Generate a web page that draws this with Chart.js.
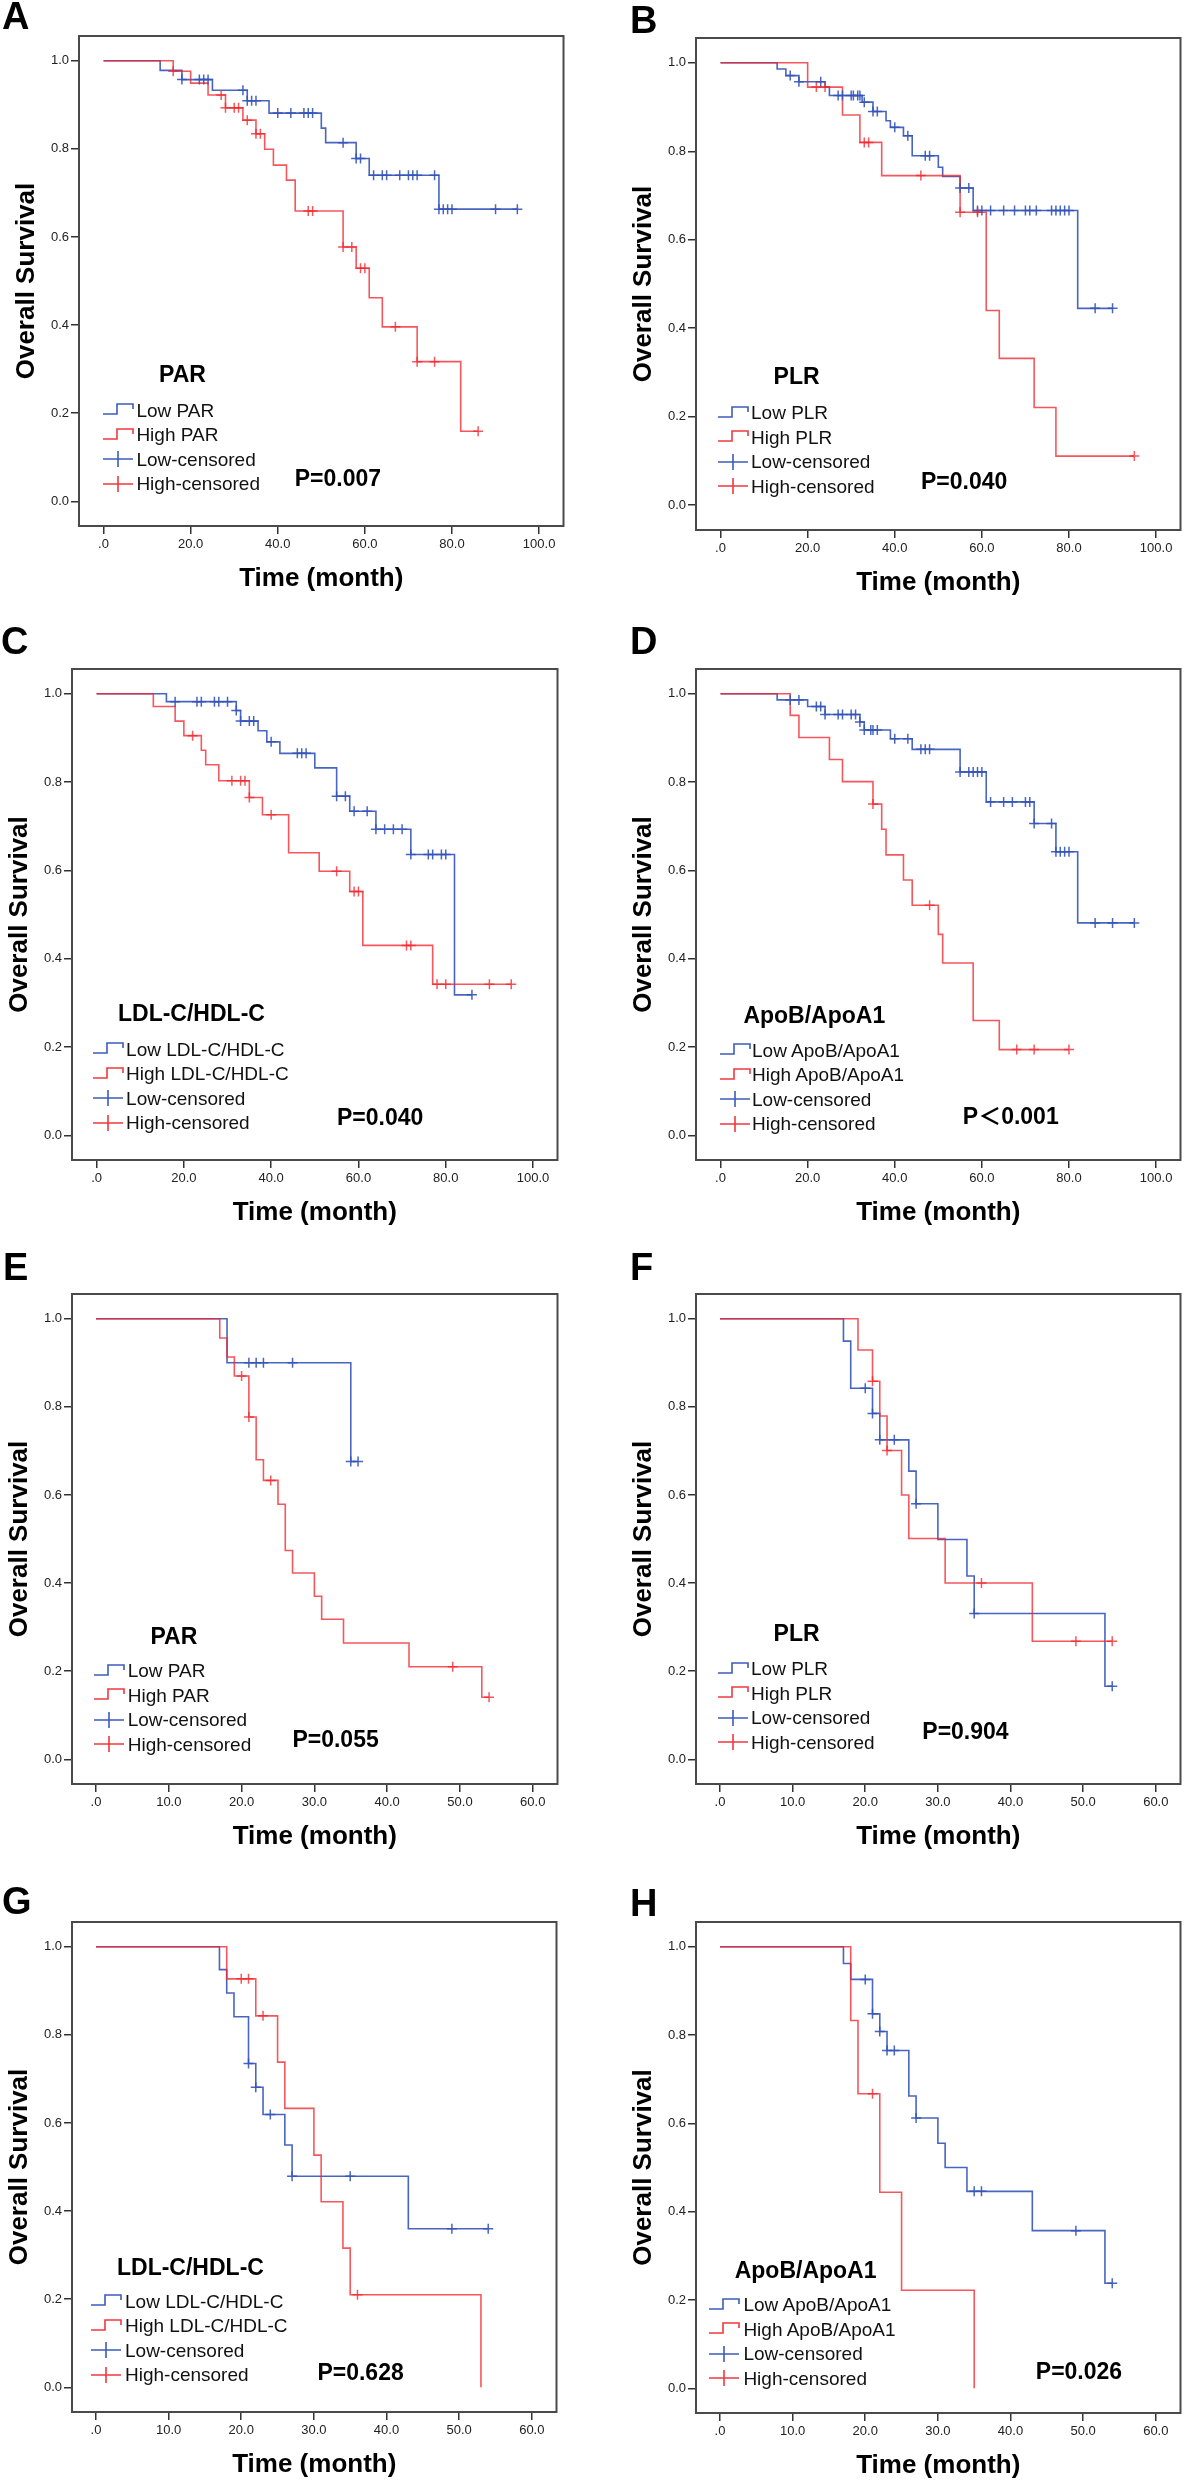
<!DOCTYPE html>
<html>
<head>
<meta charset="utf-8">
<script src="https://cdn.jsdelivr.net/npm/chart.js@4.4.1/dist/chart.umd.min.js"></script>
<style>
  html, body { margin:0; padding:0; background:#fff; }
  body { position:relative; width:1187px; height:2480px; overflow:hidden;
         font-family:"Liberation Sans", Arial, Helvetica, "Noto Sans CJK SC", sans-serif; color:#000; }
  .abs { position:absolute; white-space:nowrap; }
  .letter { font-weight:bold; font-size:38px; line-height:38px; }
  .ltitle { font-weight:bold; font-size:23px; line-height:23px; }
  .litem { font-size:19px; line-height:19px; color:#111; }
  .pval { font-weight:bold; font-size:23px; line-height:23px; }
</style>
</head>
<body>
<script>
// ---------------- DATA ----------------
const panelLetters = ['A','B','C','D','E','F','G','H'];
const legendTitles = ['PAR','PLR','LDL-C/HDL-C','ApoB/ApoA1','PAR','PLR','LDL-C/HDL-C','ApoB/ApoA1'];
const pValues = ['P=0.007','P=0.040','P=0.040','P\uFF1C0.001','P=0.055','P=0.904','P=0.628','P=0.026'];
const censLabels = ['Low-censored','High-censored'];
const yTitle = 'Overall Survival';
const xTitle = 'Time (month)';

const yTicks = [0, 0.2, 0.4, 0.6, 0.8, 1.0];
const yTickLabels = ['0.0','0.2','0.4','0.6','0.8','1.0'];
const xTicksLong = [0, 20, 40, 60, 80, 100];
const xTickLabelsLong = ['.0','20.0','40.0','60.0','80.0','100.0'];
const xTicksShort = [0, 10, 20, 30, 40, 50, 60];
const xTickLabelsShort = ['.0','10.0','20.0','30.0','40.0','50.0','60.0'];

// Panel A - PAR
const A_lowTime = [0, 13, 18, 25, 33, 38, 50, 51, 58, 61, 77];
const A_lowSurv = [1, 0.978, 0.957, 0.933, 0.909, 0.881, 0.847, 0.814, 0.778, 0.740, 0.663];
const A_lowCens = [18, 22, 23, 24, 32, 33, 34, 35, 40, 43, 46, 47, 48, 55, 58, 59, 62, 64, 65, 68, 70, 71, 72, 76, 77, 78, 79, 80, 90, 95];
const A_highTime = [0, 16, 20, 24, 28, 32, 35, 37, 39, 42, 44, 55, 58, 61, 64, 72, 82];
const A_highSurv = [1, 0.976, 0.949, 0.922, 0.893, 0.865, 0.834, 0.799, 0.763, 0.729, 0.659, 0.577, 0.529, 0.462, 0.396, 0.317, 0.159];
const A_highCens = [16, 27, 28, 30, 31, 33, 35, 36, 47, 48, 55, 57, 59, 60, 67, 72, 76, 86];

// Panel B - PLR
const B_lowTime = [0, 13, 15, 18, 24, 25, 32.5, 35, 38, 39, 42, 44, 50, 51, 55, 58, 82];
const B_lowSurv = [1, 0.986, 0.971, 0.957, 0.945, 0.926, 0.911, 0.890, 0.869, 0.854, 0.835, 0.790, 0.764, 0.743, 0.717, 0.666, 0.445];
const B_lowCens = [16, 18, 23, 27, 28, 30, 30.5, 31.5, 32, 33, 35, 36, 40, 43, 47, 48, 55, 57, 59, 60, 62, 65, 67.5, 70, 71, 72.5, 76, 77, 78, 79, 80, 86, 90];
const B_highTime = [0, 20, 28, 32, 37, 55, 61, 64, 72, 77];
const B_highSurv = [1, 0.945, 0.882, 0.820, 0.745, 0.662, 0.440, 0.332, 0.221, 0.111];
const B_highCens = [22, 24, 33, 34, 46, 55, 59, 95];

// Panel C - LDL-C/HDL-C
const C_lowTime = [0, 16, 32, 33, 37, 39, 42, 50, 55, 58, 64, 72, 82];
const C_lowSurv = [1, 0.982, 0.962, 0.938, 0.916, 0.891, 0.865, 0.832, 0.768, 0.734, 0.693, 0.636, 0.318];
const C_lowCens = [18, 23, 24, 27, 28, 30, 32, 33, 35, 36, 40, 46, 47, 48, 55, 57, 59, 62, 64, 66, 68, 70, 72, 76, 77, 79, 80, 86];
const C_highTime = [0, 13, 18, 20, 24, 25, 28, 35, 38, 44, 51, 58, 61, 77];
const C_highSurv = [1, 0.971, 0.938, 0.905, 0.872, 0.839, 0.803, 0.765, 0.726, 0.640, 0.598, 0.552, 0.430, 0.342];
const C_highCens = [22, 31, 33, 34, 35, 40, 55, 59, 60, 71, 72, 78, 80, 90, 95];

// Panel D - ApoB/ApoA1
const D_lowTime = [0, 13, 20, 24, 32, 33, 39, 44, 55, 61, 72, 77, 82];
const D_lowSurv = [1, 0.986, 0.971, 0.953, 0.936, 0.918, 0.898, 0.874, 0.823, 0.755, 0.706, 0.642, 0.481];
const D_lowCens = [16, 18, 22, 23, 24, 27, 28, 30, 31, 32, 33, 34.5, 35, 36, 40, 43, 46, 47, 48, 55, 57, 58, 59, 60, 62, 65, 67, 70, 71, 72, 76, 77, 78, 79, 80, 86, 90, 95];
const D_highTime = [0, 16, 18, 25, 28, 35, 37, 38, 42, 44, 50, 51, 58, 64];
const D_highSurv = [1, 0.951, 0.901, 0.851, 0.801, 0.750, 0.693, 0.635, 0.578, 0.521, 0.455, 0.390, 0.260, 0.194];
const D_highCens = [35, 48, 68, 72, 80];

// Panel E - PAR
const E_lowTime = [0, 18, 35];
const E_lowSurv = [1, 0.900, 0.676];
const E_lowCens = [21, 22, 23, 27, 35, 36];
const E_highTime = [0, 17, 18, 19, 21, 22, 23, 25, 26, 27, 30, 31, 34, 43, 53];
const E_highSurv = [1, 0.956, 0.913, 0.870, 0.777, 0.680, 0.633, 0.579, 0.474, 0.423, 0.370, 0.318, 0.264, 0.210, 0.141];
const E_highCens = [20, 21, 24, 49, 54];

// Panel F - PLR
const F_lowTime = [0, 17, 18, 21, 22, 26, 27, 30, 34, 35, 53];
const F_lowSurv = [1, 0.949, 0.842, 0.785, 0.725, 0.654, 0.580, 0.499, 0.416, 0.331, 0.166];
const F_lowCens = [20, 21, 22, 24, 27, 35, 54];
const F_highTime = [0, 19, 21, 22, 23, 25, 26, 31, 43];
const F_highSurv = [1, 0.929, 0.858, 0.779, 0.701, 0.600, 0.501, 0.400, 0.268];
const F_highCens = [21, 23, 36, 49, 54];

// Panel G - LDL-C/HDL-C
const G_lowTime = [0, 17, 18, 19, 21, 22, 23, 26, 27, 43];
const G_lowSurv = [1, 0.948, 0.895, 0.841, 0.735, 0.681, 0.619, 0.550, 0.479, 0.360];
const G_lowCens = [21, 22, 24, 27, 35, 49, 54];
const G_highTime = [0, 18, 22, 25, 26, 30, 31, 34, 35, 53];
const G_highSurv = [1, 0.927, 0.843, 0.738, 0.633, 0.527, 0.421, 0.316, 0.210, 0];
const G_highCens = [20, 21, 23, 36];

// Panel H - ApoB/ApoA1
const H_lowTime = [0, 17, 18, 21, 22, 23, 26, 27, 30, 31, 34, 43, 53];
const H_lowSurv = [1, 0.962, 0.926, 0.848, 0.808, 0.765, 0.662, 0.612, 0.555, 0.500, 0.446, 0.357, 0.238];
const H_lowCens = [20, 21, 22, 23, 24, 27, 35, 36, 49, 54];
const H_highTime = [0, 18, 19, 22, 25, 35];
const H_highSurv = [1, 0.833, 0.667, 0.444, 0.222, 0];
const H_highCens = [21];

// ---------------- LAYOUT / STYLE ----------------
const FONT = '"Liberation Sans", Arial, Helvetica, sans-serif';
const BLUE = 'rgba(52, 84, 186, 0.9)';
const RED = 'rgba(242, 40, 48, 0.78)';
const BLUE_SOLID = '#3d5cbc';
const RED_SOLID = '#f0383e';

const xRangeLong = { min: -5.63, max: 105.6 };
const xRangeShort = { min: -3.3, max: 63.4 };
const yRange = { min: -0.056, max: 1.056 };

// frame [left, top, right, bottom]; legend offsets relative to frame left/top
const layouts = [
  { frame:[79,36,567,526],   letter:[2,2],     title:[80,338],   icon:24.4, text:57.4, row0:374,   p:[215.7,442.6] },
  { frame:[696,38,1184,530], letter:[630,6],   title:[77.6,338], icon:21.7, text:55,   row0:374.7, p:[225,443.6] },
  { frame:[72,669,561,1160], letter:[1,627],   title:[46,344.3], icon:20.8, text:54.1, row0:380.1, p:[265,448.2] },
  { frame:[696,669,1184,1160], letter:[630,627], title:[47.4,346.3], icon:23.6, text:56, row0:381.3, p:[266.8,447] },
  { frame:[72,1294,561,1784], letter:[3,1253], title:[78.4,342.1], icon:22, text:55.7, row0:376.5, p:[220.4,445.7] },
  { frame:[696,1294,1184,1784], letter:[630,1253], title:[77.6,339.8], icon:22, text:55, row0:374.6, p:[226.3,437.8] },
  { frame:[72,1922,560,2412], letter:[2,1887], title:[45,345], icon:19, text:53, row0:379, p:[245.4,450.2] },
  { frame:[696,1922,1184,2413], letter:[630,1889], title:[38.7,348.3], icon:13.4, text:47.4, row0:382.8, p:[339.8,449.3] }
];
const ROW_STEP = 24.5;

const series = [
  [A_lowTime, A_lowSurv, A_lowCens, A_highTime, A_highSurv, A_highCens, 'long'],
  [B_lowTime, B_lowSurv, B_lowCens, B_highTime, B_highSurv, B_highCens, 'long'],
  [C_lowTime, C_lowSurv, C_lowCens, C_highTime, C_highSurv, C_highCens, 'long'],
  [D_lowTime, D_lowSurv, D_lowCens, D_highTime, D_highSurv, D_highCens, 'long'],
  [E_lowTime, E_lowSurv, E_lowCens, E_highTime, E_highSurv, E_highCens, 'short'],
  [F_lowTime, F_lowSurv, F_lowCens, F_highTime, F_highSurv, F_highCens, 'short'],
  [G_lowTime, G_lowSurv, G_lowCens, G_highTime, G_highSurv, G_highCens, 'short'],
  [H_lowTime, H_lowSurv, H_lowCens, H_highTime, H_highSurv, H_highCens, 'short']
];

// ---------------- HELPERS ----------------
function lineData(times, surv, cens) {
  const pts = times.map((t, i) => ({ x: t, y: surv[i] }));
  const lastT = times[times.length - 1];
  const maxC = cens.length ? Math.max(...cens) : lastT;
  if (maxC > lastT) pts.push({ x: maxC, y: surv[surv.length - 1] });
  return pts;
}
function survAt(times, surv, t) {
  let s = surv[0];
  for (let i = 0; i < times.length; i++) if (times[i] <= t) s = surv[i];
  return s;
}
function censData(times, surv, cens) {
  return cens.map(t => ({ x: t, y: survAt(times, surv, t) }));
}

const framePlugin = {
  id: 'frame',
  afterDraw(chart) {
    const { ctx, chartArea: a } = chart;
    ctx.save();
    ctx.strokeStyle = '#4a4a4a';
    ctx.lineWidth = 2;
    ctx.strokeRect(a.left, a.top, a.right - a.left, a.bottom - a.top);
    ctx.restore();
  }
};

function addDiv(cls, text, left, top) {
  const d = document.createElement('div');
  d.className = 'abs ' + cls;
  d.textContent = text;
  d.style.left = left + 'px';
  d.style.top = top + 'px';
  document.body.appendChild(d);
  return d;
}
function addIcon(kind, color, left, cy) {
  const ns = 'http://www.w3.org/2000/svg';
  const svg = document.createElementNS(ns, 'svg');
  svg.setAttribute('width', '32'); svg.setAttribute('height', '24');
  svg.style.position = 'absolute';
  svg.style.left = left + 'px';
  svg.style.top = (cy - 12) + 'px';
  const path = document.createElementNS(ns, 'path');
  path.setAttribute('d', kind === 'line' ? 'M0 16 H14 V6 H30 V11' : 'M0 12 H30 M15 4 V20');
  path.setAttribute('fill', 'none');
  path.setAttribute('stroke', color);
  path.setAttribute('stroke-width', '1.6');
  svg.appendChild(path);
  document.body.appendChild(svg);
}

function makePanel(idx) {
  const lay = layouts[idx];
  const [lowT, lowS, lowC, highT, highS, highC, kind] = series[idx];
  const [L, T, R, B] = lay.frame;
  const padTop = 10, padRight = 3, padBottom = 4, yW = 72, xH = 72;
  const cw = R - L + yW + padRight;
  const ch = B - T + padTop + xH + padBottom;
  const canvas = document.createElement('canvas');
  canvas.width = cw; canvas.height = ch;
  canvas.style.cssText = `position:absolute;left:${L - yW}px;top:${T - padTop}px;width:${cw}px;height:${ch}px;`;
  document.body.appendChild(canvas);

  const xr = kind === 'long' ? xRangeLong : xRangeShort;
  const xt = kind === 'long' ? xTicksLong : xTicksShort;
  const xl = kind === 'long' ? xTickLabelsLong : xTickLabelsShort;

  new Chart(canvas.getContext('2d'), {
    type: 'scatter',
    data: {
      datasets: [
        { data: censData(highT, highS, highC), showLine: false, pointStyle: 'cross', pointRadius: 5,
          pointHoverRadius: 5, borderColor: RED, backgroundColor: RED, borderWidth: 1.5 },
        { data: censData(lowT, lowS, lowC), showLine: false, pointStyle: 'cross', pointRadius: 5,
          pointHoverRadius: 5, borderColor: BLUE, backgroundColor: BLUE, borderWidth: 1.5 },
        { data: lineData(highT, highS, highC), showLine: true, stepped: 'before', pointRadius: 0,
          borderColor: RED, borderWidth: 1.6, fill: false },
        { data: lineData(lowT, lowS, lowC), showLine: true, stepped: 'before', pointRadius: 0,
          borderColor: BLUE, borderWidth: 1.6, fill: false }
      ]
    },
    options: {
      responsive: false, animation: false, devicePixelRatio: 1,
      events: [],
      layout: { padding: { top: padTop, right: padRight, bottom: padBottom, left: 0 } },
      plugins: { legend: { display: false }, tooltip: { enabled: false } },
      scales: {
        x: {
          type: 'linear', min: xr.min, max: xr.max,
          afterBuildTicks: s => { s.ticks = xt.map(v => ({ value: v })); },
          afterFit: s => { s.height = xH; },
          ticks: { callback: (v, i) => xl[i], font: { family: FONT, size: 13 }, color: '#222',
                   padding: 3, maxRotation: 0, autoSkip: false },
          grid: { display: true, drawOnChartArea: false, drawTicks: true, tickLength: 8, color: '#333', lineWidth: 1.5 },
          border: { display: false },
          title: { display: true, text: xTitle, color: '#000',
                   font: { family: FONT, size: 26, weight: 'bold' }, padding: { top: 0, bottom: 4 } }
        },
        y: {
          type: 'linear', min: yRange.min, max: yRange.max,
          afterBuildTicks: s => { s.ticks = yTicks.map(v => ({ value: v })); },
          afterFit: s => { s.width = yW; },
          ticks: { callback: (v, i) => yTickLabels[i], font: { family: FONT, size: 13 }, color: '#222',
                   padding: 2, autoSkip: false },
          grid: { display: true, drawOnChartArea: false, drawTicks: true, tickLength: 8, color: '#333', lineWidth: 1.5 },
          border: { display: false },
          title: { display: true, text: yTitle, color: '#000',
                   font: { family: FONT, size: 26, weight: 'bold' }, padding: { top: 4, bottom: 0 } }
        }
      }
    },
    plugins: [framePlugin]
  });

  // panel letter
  addDiv('letter', panelLetters[idx], lay.letter[0], lay.letter[1] - 4.7);
  // legend
  const title = legendTitles[idx];
  addDiv('ltitle', title, L + lay.title[0], T + lay.title[1] - 11.5);
  const items = [
    ['line', BLUE_SOLID, 'Low ' + title],
    ['line', RED_SOLID, 'High ' + title],
    ['cens', BLUE_SOLID, censLabels[0]],
    ['cens', RED_SOLID, censLabels[1]]
  ];
  items.forEach((it, k) => {
    const cy = T + lay.row0 + k * ROW_STEP;
    addIcon(it[0], it[1], L + lay.icon, cy);
    addDiv('litem', it[2], L + lay.text, cy - 9.5);
  });
  // p value
  addDiv('pval', pValues[idx], L + lay.p[0], T + lay.p[1] - 11.5);
}

for (let i = 0; i < 8; i++) makePanel(i);
</script>
</body>
</html>
